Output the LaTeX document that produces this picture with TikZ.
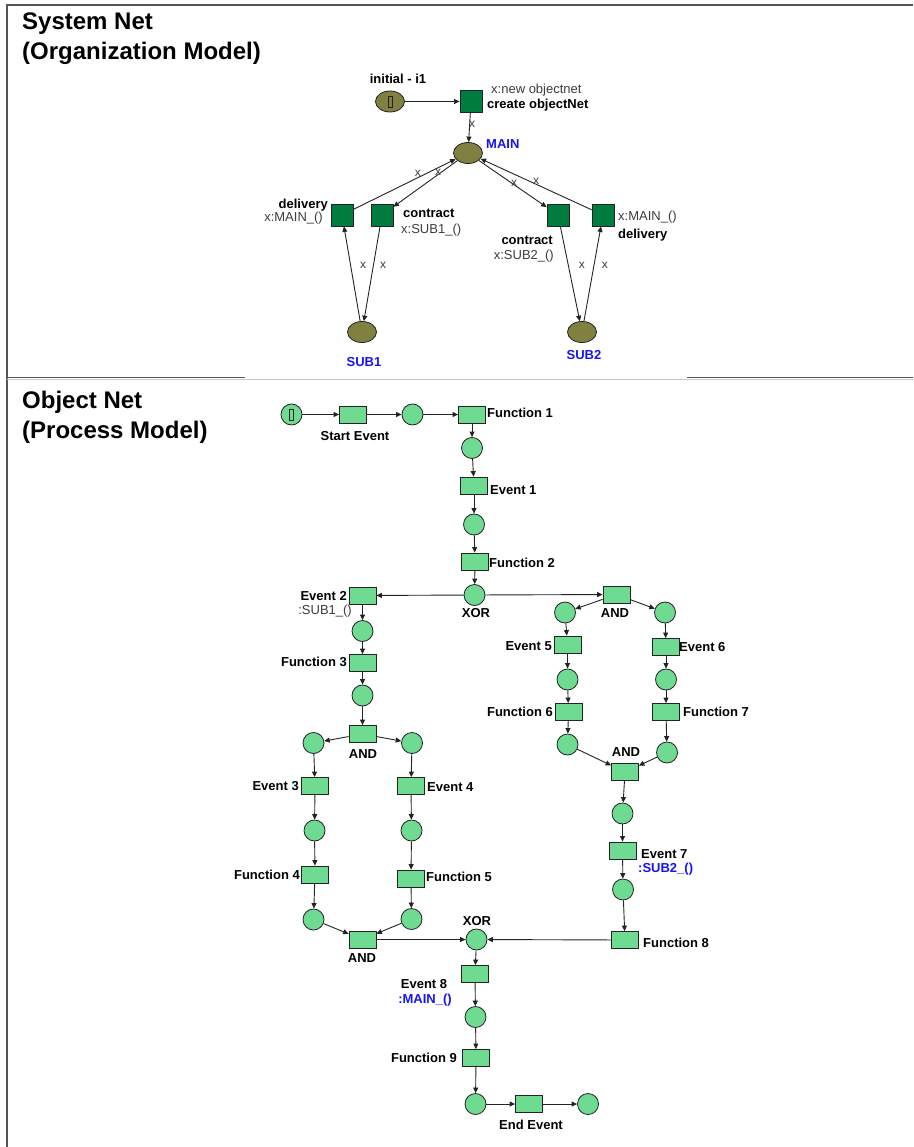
\documentclass[tikz,border=0pt]{standalone}
\usepackage{fontspec}
\setmainfont{Liberation Sans}
\usetikzlibrary{arrows.meta,shapes.geometric}

\definecolor{placeolive}{RGB}{128,128,64}
\definecolor{transgreen}{RGB}{0,124,62}
\definecolor{netgreen}{RGB}{111,218,146}
\definecolor{labelblue}{RGB}{20,20,245}
\definecolor{edgecol}{RGB}{35,35,35}
\definecolor{framecol}{RGB}{85,85,85}
\definecolor{sepgray}{RGB}{200,200,200}
\definecolor{softtext}{RGB}{60,60,60}

\tikzset{
  sysplace/.style={ellipse, draw=edgecol, line width=0.8pt, fill=placeolive,
    minimum width=29pt, minimum height=21pt, inner sep=0pt},
  systrans/.style={rectangle, draw=edgecol, line width=0.8pt, fill=transgreen,
    minimum size=22pt, inner sep=0pt},
  objplace/.style={circle, draw=edgecol, line width=0.8pt, fill=netgreen,
    minimum size=21pt, inner sep=0pt},
  objtrans/.style={rectangle, draw=edgecol, line width=0.8pt, fill=netgreen,
    minimum width=27pt, minimum height=17pt, inner sep=0pt},
  token/.style={rectangle, draw=edgecol, line width=0.8pt,
    minimum width=4pt, minimum height=11pt, inner sep=0pt},
  arc/.style={draw=edgecol, line width=0.9pt, -{Triangle[length=5.5pt,width=5pt]}},
  title/.style={font=\fontsize{24}{28}\selectfont\bfseries, inner sep=0pt},
  lbl/.style={font=\fontsize{13}{15}\selectfont\bfseries, inner sep=0pt,
    text height=9.3pt, text depth=0pt},
  bluelbl/.style={lbl, text=labelblue},
  inscr/.style={font=\fontsize{13}{15}\selectfont, text=softtext, inner sep=0pt,
    text height=9.3pt, text depth=0pt},
  arclbl/.style={font=\fontsize{12}{14}\selectfont, text=softtext, inner sep=0pt,
    text height=6.2pt, text depth=0pt},
}

\begin{document}
\begin{tikzpicture}[x=1pt,y=-1pt]
\useasboundingbox (0,0) rectangle (913,1147);

% ---------- frame ----------
\draw[framecol, line width=1.6pt] (7,1147) -- (7,5) -- (913,5);
\draw[sepgray, line width=1pt] (7,379.5) -- (913,379.5);
\draw[framecol, line width=1.4pt] (7,377.5) -- (245,377.5);
\draw[framecol, line width=1.4pt] (687,377.5) -- (913,377.5);

% ---------- section titles ----------
\node[title, anchor=base west] (t1a) at (22,30) {System Net};
\node[title, anchor=base west] (t1b) at (22,60) {(Organization Model)};
\node[title, anchor=base west] (t2a) at (22,408) {Object Net};
\node[title, anchor=base west] (t2b) at (22,438) {(Process Model)};

% ================= System net =================
\node[sysplace] (i1) at (390,101.5) {};
\node[token, fill=placeolive] (i1tok) at (i1) {};
\node[systrans] (create) at (471,101.5) {};
\node[sysplace] (main) at (468,153) {};
\node[systrans] (delL) at (342,215) {};
\node[systrans] (conL) at (382,215) {};
\node[systrans] (conR) at (558,215) {};
\node[systrans] (delR) at (603,215) {};
\node[sysplace] (sub1) at (362,332) {};
\node[sysplace] (sub2) at (582,332) {};

\node[lbl] (li1) at (398,79) {initial - i1};
\node[inscr, anchor=west] (lcr1) at (491,89) {x:new objectnet};
\node[lbl, anchor=west] (lcr2) at (487,104) {create objectNet};
\node[bluelbl, anchor=west] (lmain) at (486,144) {MAIN};
\node[lbl, anchor=east] (ldl1) at (328,204) {delivery};
\node[inscr, anchor=east] (ldl2) at (323,217) {x:MAIN\_()};
\node[lbl, anchor=west] (lcl1) at (403,213) {contract};
\node[inscr, anchor=west] (lcl2) at (401,229) {x:SUB1\_()};
\node[lbl, anchor=east] (lcr3) at (553,240) {contract};
\node[inscr, anchor=east] (lcr4) at (554,255) {x:SUB2\_()};
\node[inscr, anchor=west] (ldr1) at (618,216) {x:MAIN\_()};
\node[lbl, anchor=west] (ldr2) at (618,234) {delivery};
\node[bluelbl] (lsub1) at (364,362) {SUB1};
\node[bluelbl] (lsub2) at (584,355) {SUB2};

\draw[arc] (i1) -- (create);
\draw[arc] (create) -- node[arclbl, pos=0.38, xshift=2.5pt] {x} (main);
\draw[arc] (delL) -- node[arclbl, pos=0.63, yshift=4.5pt] {x} (main);
\draw[arc] (main) -- node[arclbl, pos=0.30, yshift=1.6pt] {x} (conL);
\draw[arc] (main) -- node[arclbl, pos=0.52, yshift=1.7pt] {x} (conR);
\draw[arc] (delR) -- node[arclbl, pos=0.50, yshift=3.2pt] {x} (main);
\draw[arc] (sub1) -- node[arclbl, pos=0.59, xshift=12.5pt] {x} (delL);
\draw[arc] (conL) -- node[arclbl, pos=0.41, xshift=9.8pt] {x} (sub1);
\draw[arc] (conR) -- node[arclbl, pos=0.41, xshift=13.5pt] {x} (sub2);
\draw[arc] (sub2) -- node[arclbl, pos=0.59, xshift=11pt] {x} (delR);

% ================= Object net =================
% places
\node[objplace] (p0) at (291.5,414.5) {};
\node[token, fill=netgreen] (p0tok) at (p0) {};
\node[objplace] (p1) at (412.5,414.5) {};
\node[objplace] (p2) at (472,448) {};
\node[objplace] (p3) at (474,524.5) {};
\node[objplace] (xor1) at (474.5,595) {};
\node[objplace] (p4) at (362.5,631) {};
\node[objplace] (p5) at (362.5,695.5) {};
\node[objplace] (p6) at (313.5,743) {};
\node[objplace] (p7) at (412,743) {};
\node[objplace] (p8) at (314.5,830.5) {};
\node[objplace] (p9) at (411.5,830.5) {};
\node[objplace] (p10) at (313.5,919.5) {};
\node[objplace] (p11) at (411.5,919) {};
\node[objplace] (p12) at (565,612.5) {};
\node[objplace] (p13) at (665,612.5) {};
\node[objplace] (p14) at (567.5,679.5) {};
\node[objplace] (p15) at (666,679.5) {};
\node[objplace] (p16) at (567.5,744.5) {};
\node[objplace] (p17) at (667,752.5) {};
\node[objplace] (p18) at (622.5,813.5) {};
\node[objplace] (p19) at (623,889.5) {};
\node[objplace] (xor2) at (476.5,939.5) {};
\node[objplace] (p20) at (475.5,1017) {};
\node[objplace] (p21) at (475.5,1104) {};
\node[objplace] (p22) at (588,1104) {};

% transitions
\node[objtrans] (tStart) at (353,414.5) {};
\node[objtrans] (tF1) at (472,414.5) {};
\node[objtrans] (tE1) at (474,485.5) {};
\node[objtrans] (tF2) at (475,561.5) {};
\node[objtrans] (tE2) at (362.5,595.5) {};
\node[objtrans] (tAnd1) at (616.5,594.5) {};
\node[objtrans] (tF3) at (362.5,663) {};
\node[objtrans] (tAnd2) at (362.5,734) {};
\node[objtrans] (tE3) at (315,786) {};
\node[objtrans] (tE4) at (411,786) {};
\node[objtrans] (tF4) at (315,874.5) {};
\node[objtrans] (tF5) at (411,878.5) {};
\node[objtrans] (tAnd3) at (362.5,939.5) {};
\node[objtrans] (tE5) at (567.5,644.5) {};
\node[objtrans] (tE6) at (666,647) {};
\node[objtrans] (tF6) at (568.5,712) {};
\node[objtrans] (tF7) at (666,712) {};
\node[objtrans] (tAnd4) at (625,772) {};
\node[objtrans] (tE7) at (622.5,850.5) {};
\node[objtrans] (tF8) at (625,940) {};
\node[objtrans] (tE8) at (475,974) {};
\node[objtrans] (tF9) at (476,1058) {};
\node[objtrans] (tEnd) at (529,1104) {};

% labels
\node[lbl] (lStart) at (355,436) {Start Event};
\node[lbl, anchor=west] (lF1) at (487,413) {Function 1};
\node[lbl, anchor=west] (lE1) at (490,490) {Event 1};
\node[lbl, anchor=west] (lF2) at (489,563) {Function 2};
\node[lbl] (lXor1) at (476,613) {XOR};
\node[lbl] (lAnd1) at (615,613) {AND};
\node[lbl, anchor=east] (lE2) at (347,596) {Event 2};
\node[inscr, anchor=east] (lE2b) at (352,610) {:SUB1\_()};
\node[lbl, anchor=east] (lF3) at (347,662) {Function 3};
\node[lbl] (lAnd2) at (363,754) {AND};
\node[lbl, anchor=east] (lE3) at (299,786) {Event 3};
\node[lbl, anchor=west] (lE4) at (427,787) {Event 4};
\node[lbl, anchor=east] (lF4) at (300,875) {Function 4};
\node[lbl, anchor=west] (lF5) at (426,877) {Function 5};
\node[lbl] (lAnd3) at (362,958) {AND};
\node[lbl] (lXor2) at (477,921) {XOR};
\node[lbl, anchor=east] (lE5) at (552,646) {Event 5};
\node[lbl, anchor=west] (lE6) at (679,647) {Event 6};
\node[lbl, anchor=east] (lF6) at (553,712) {Function 6};
\node[lbl, anchor=west] (lF7) at (683,712) {Function 7};
\node[lbl] (lAnd4) at (626,752) {AND};
\node[lbl, anchor=west] (lE7) at (641,854) {Event 7};
\node[bluelbl, anchor=west] (lE7b) at (638,868) {:SUB2\_()};
\node[lbl, anchor=west] (lF8) at (643,943) {Function 8};
\node[lbl] (lE8) at (424,984) {Event 8};
\node[bluelbl] (lE8b) at (425,999) {:MAIN\_()};
\node[lbl, anchor=east] (lF9) at (457,1058) {Function 9};
\node[lbl] (lEnd) at (531,1125) {End Event};

% arcs
\foreach \a/\b in {p0/tStart, tStart/p1, p1/tF1, tF1/p2, p2/tE1, tE1/p3, p3/tF2,
  tF2/xor1, xor1/tE2, xor1/tAnd1, tE2/p4, p4/tF3, tF3/p5, p5/tAnd2,
  tAnd2/p6, tAnd2/p7, p6/tE3, p7/tE4, tE3/p8, tE4/p9, p8/tF4, p9/tF5,
  tF4/p10, tF5/p11, p10/tAnd3, p11/tAnd3, tAnd3/xor2,
  tAnd1/p12, tAnd1/p13, p12/tE5, p13/tE6, tE5/p14, tE6/p15, p14/tF6, p15/tF7,
  tF6/p16, tF7/p17, p16/tAnd4, p17/tAnd4, tAnd4/p18, p18/tE7, tE7/p19, p19/tF8,
  tF8/xor2, xor2/tE8, tE8/p20, p20/tF9, tF9/p21, p21/tEnd, tEnd/p22}
  \draw[arc] (\a) -- (\b);

\end{tikzpicture}
\end{document}
